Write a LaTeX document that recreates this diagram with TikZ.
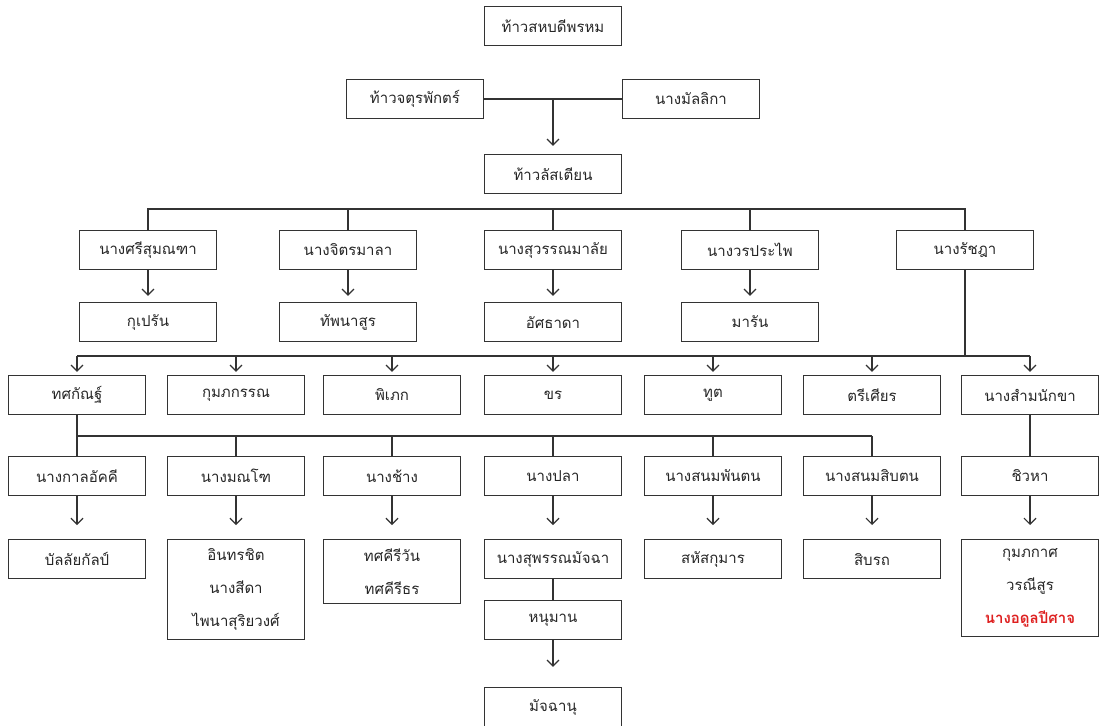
\documentclass[tikz,border=0pt]{standalone}
\usepackage{fontspec}
\newfontfamily\thaifont[Script=Thai]{Loma}
\usetikzlibrary{arrows.meta}
\definecolor{demonred}{RGB}{222,32,32}
\tikzset{
  box/.style={draw=black!80, line width=1.2pt, minimum width=137pt, minimum height=39pt,
    inner xsep=3pt, inner ysep=9pt, align=center, text=black!85,
    font=\thaifont\fontsize{15}{33}\selectfont},
  link/.style={draw=black!80, line width=1.2pt},
  arr/.style={link, -{Straight Barb[length=6pt,width=12pt]}, shorten >=6pt},
}
\begin{document}
\begin{tikzpicture}[x=1pt,y=1pt]
\useasboundingbox (0,0) rectangle (1104,-726);
% the ancestors
\node[box] (brahma) at (553,-26) {ท้าวสหบดีพรหม};
\node[box] (chatu) at (415,-99) {ท้าวจตุรพักตร์};
\node[box] (malli) at (691,-99) {นางมัลลิกา};
\node[box] (lus) at (553,-174) {ท้าวลัสเตียน};
\draw[link] (chatu.east) -- (malli.west);
\draw[arr, shorten >=8pt] (chatu.east -| lus.north) -- (lus.north);
% wives of lus and their sons
\node[box] (w1) at (148,-250) {นางศรีสุมณฑา};
\node[box] (w2) at (348,-250) {นางจิตรมาลา};
\node[box] (w3) at (553,-250) {นางสุวรรณมาลัย};
\node[box] (w4) at (750,-250) {นางวรประไพ};
\node[box] (w5) at (965,-250) {นางรัชฎา};
\node[box] (c1) at (148,-322) {กุเปรัน};
\node[box] (c2) at (348,-322) {ทัพนาสูร};
\node[box] (c3) at (553,-322) {อัศธาดา};
\node[box] (c4) at (750,-322) {มารัน};
\coordinate (barA) at (0,-209);
\draw[link] (w1.north) -- (w1.north |- barA) -- (w5.north |- barA) -- (w5.north);
\foreach \n in {w2,w3,w4}
  \draw[link] (\n.north |- barA) -- (\n.north);
\foreach \a/\b in {w1/c1,w2/c2,w3/c3,w4/c4}
  \draw[arr] (\a.south) -- (\b.north);
% children of nang ratchada
\node[box] (tos) at (77,-395) {ทศกัณฐ์};
\node[box] (kum) at (236,-395) {กุมภกรรณ};
\node[box] (pip) at (392,-395) {พิเภก};
\node[box] (kon) at (553,-395) {ขร};
\node[box] (tut) at (713,-395) {ทูต};
\node[box] (tri) at (872,-395) {ตรีเศียร};
\node[box] (sam) at (1030,-395) {นางสำมนักขา};
\coordinate (barB) at (0,-356);
\draw[link] (w5.south) -- (w5.south |- barB);
\draw[link] (tos.north |- barB) -- (sam.north |- barB);
\foreach \n in {tos,kum,pip,kon,tut,tri,sam}
  \draw[arr, shorten >=3pt] (\n.north |- barB) -- (\n.north);
% wives of thotsakan
\node[box] (kan) at (77,-476) {นางกาลอัคคี};
\node[box] (mon) at (236,-476) {นางมณโฑ};
\node[box] (chang) at (392,-476) {นางช้าง};
\node[box] (pla) at (553,-476) {นางปลา};
\node[box] (sonp) at (713,-476) {นางสนมพันตน};
\node[box] (sons) at (872,-476) {นางสนมสิบตน};
\node[box] (chiw) at (1030,-476) {ชิวหา};
\coordinate (barC) at (0,-436);
\draw[link] (tos.south) -- (tos.south |- barC) -- (sons.north |- barC);
\foreach \n in {mon,chang,pla,sonp,sons}
  \draw[link] (\n.north |- barC) -- (\n.north);
\draw[link] (tos.south |- barC) -- (kan.north);
\draw[link] (sam.south) -- (chiw.north);
% grandchildren
\node[box, anchor=north] (ban) at (77,-539) {บัลลัยกัลป์};
\node[box, anchor=north] (inth) at (236,-539) {อินทรชิต\\นางสีดา\\ไพนาสุริยวงศ์};
\node[box, anchor=north] (tosk) at (392,-539) {ทศคีรีวัน\\ทศคีรีธร};
\node[box, anchor=north] (supp) at (553,-539) {นางสุพรรณมัจฉา};
\node[box, anchor=north] (sahat) at (713,-539) {สหัสกุมาร};
\node[box, anchor=north] (sib) at (872,-539) {สิบรถ};
\node[box, anchor=north] (kump) at (1030,-539) {กุมภกาศ\\วรณีสูร\\\textcolor{demonred}{\bfseries นางอดูลปีศาจ}};
\foreach \a/\b in {kan/ban,mon/inth,chang/tosk,pla/supp,sonp/sahat,sons/sib,chiw/kump}
  \draw[arr, shorten >=14pt] (\a.south) -- (\b.north);
\node[box] (hanu) at (553,-620) {หนุมาน};
\node[box] (macch) at (553,-707) {มัจฉานุ};
\draw[link] (supp.south) -- (hanu.north);
\draw[arr, shorten >=20pt] (hanu.south) -- (macch.north);
\end{tikzpicture}
\end{document}
